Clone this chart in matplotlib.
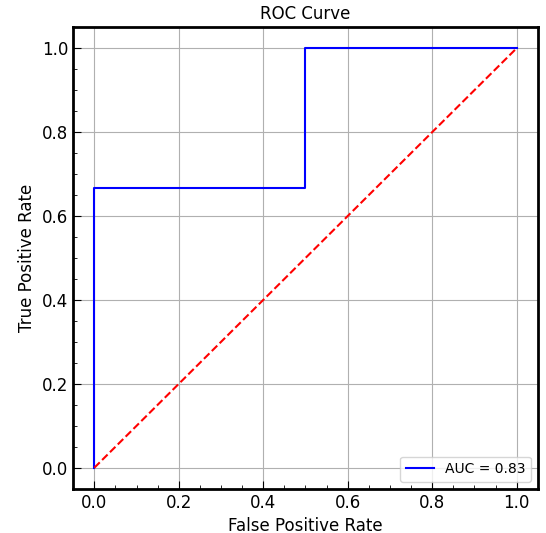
import numpy as np
import matplotlib.pyplot as plt
from matplotlib.ticker import MultipleLocator

# roc points
fpr = [0.0, 0.0, 0.5, 0.5, 1.0]
tpr = [0.0, 0.6667, 0.6667, 1.0, 1.0]
roc_auc = 0.83

fig, ax = plt.subplots(figsize=(5.46, 5.33), dpi=100)
fig.subplots_adjust(left=0.134, right=0.985, top=0.949, bottom=0.083)

ax.plot(fpr, tpr, color='blue', label='AUC = %0.2f' % roc_auc)
ax.plot([0, 1], [0, 1], 'r--')
ax.set_xlim(-0.05, 1.05)
ax.set_ylim(-0.05, 1.05)
ax.set_title('ROC Curve', fontsize=12)
ax.set_xlabel('False Positive Rate', fontsize=12)
ax.set_ylabel('True Positive Rate', fontsize=12)
ax.legend(loc='lower right', fontsize=10)
ax.grid(True, color='#b0b0b0')

ax.xaxis.set_major_locator(MultipleLocator(0.2))
ax.yaxis.set_major_locator(MultipleLocator(0.2))
ax.xaxis.set_minor_locator(MultipleLocator(0.05))
ax.yaxis.set_minor_locator(MultipleLocator(0.05))
ax.tick_params(which='both', direction='in')
ax.tick_params(which='major', length=6, labelsize=12)
ax.tick_params(which='minor', length=3)
for s in ax.spines.values():
    s.set_linewidth(2)

plt.savefig('out.png')
